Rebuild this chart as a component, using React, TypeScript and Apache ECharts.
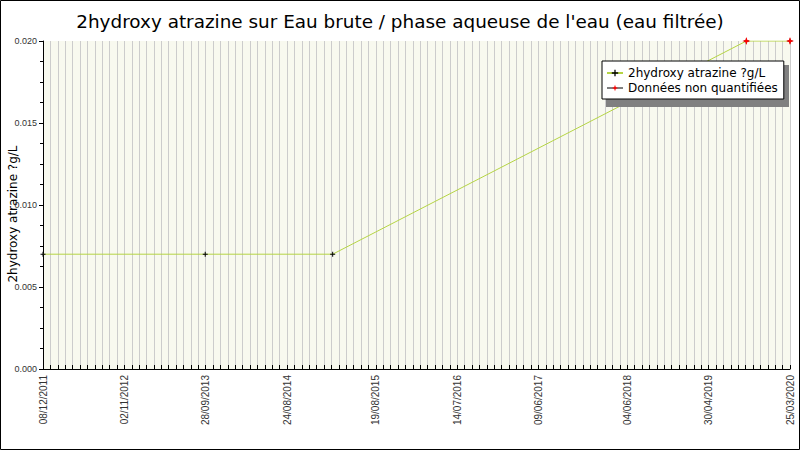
import React, { useEffect, useRef } from 'react';
import * as echarts from 'echarts';

// axis tick labels (dates at the labelled ticks, 30-day steps)
const xLabels = [
  '08/12/2011', '02/11/2012', '28/09/2013', '24/08/2014', '19/08/2015',
  '14/07/2016', '09/06/2017', '04/06/2018', '30/04/2019', '25/03/2020'
];

// sample dates and measured values
const sampleDates = ['08/12/2011', '26/09/2013', '25/02/2015', '30/09/2019', '25/03/2020'];
const sampleValues = [0.007, 0.007, 0.007, 0.02, 0.02];
// true = value below quantification limit
const nonQuantified = [false, false, false, true, true];

const toUTC = (s: string) => {
  const [d, m, y] = s.split('/').map(Number);
  return Date.UTC(y, m - 1, d);
};
const origin = toUTC(xLabels[0]);
const toDays = (s: string) => Math.round((toUTC(s) - origin) / 86400000);

const labelDays = xLabels.map(toDays);
const maxDay = labelDays[labelDays.length - 1];

const plusIcon = 'path://M2,0H3V2H5V3H3V5H2V3H0V2H2Z';
const starIcon = 'path://M4,0L5,3L8,4L5,5L4,8L3,5L0,4L3,3Z';

const App: React.FC = () => {
  const chartRef = useRef<HTMLDivElement>(null);

  useEffect(() => {
    if (!chartRef.current) return;
    const chart = echarts.init(chartRef.current, undefined, { renderer: 'svg' });

    const allPoints = sampleDates.map((d, i) => [toDays(d), sampleValues[i]]);
    const nqPoints = sampleDates
      .map((d, i) => (nonQuantified[i] ? [toDays(d), sampleValues[i]] : null))
      .filter(p => p !== null);

    const option: echarts.EChartsOption = {
      animation: false,
      backgroundColor: '#ffffff',
      title: {
        text: "2hydroxy atrazine sur Eau brute / phase aqueuse de l'eau (eau filtrée)",
        left: 'center',
        top: 7,
        textStyle: {
          fontFamily: 'DejaVu Sans',
          fontSize: 18.4,
          fontWeight: 'normal',
          color: '#000'
        }
      },
      legend: {
        orient: 'vertical',
        left: 602,
        top: 61,
        padding: [6, 6, 5, 4],
        itemGap: 3,
        itemWidth: 16,
        itemHeight: 8,
        backgroundColor: '#ffffff',
        borderColor: '#000',
        borderWidth: 1,
        z: 10,
        textStyle: { fontFamily: 'DejaVu Sans', fontSize: 12, color: '#000' },
        data: [
          { name: '2hydroxy atrazine ?g/L' },
          {
            name: 'Données non quantifiées',
            lineStyle: { color: '#000', width: 1, opacity: 1 }
          }
        ]
      },
      graphic: [
        {
          // legend drop shadow
          type: 'rect',
          shape: { x: 606, y: 65, width: 183, height: 42 },
          style: { fill: '#808080' },
          silent: true,
          z: 9
        },
        {
          type: 'rect',
          shape: { x: 0.5, y: 0.5, width: 799, height: 449 },
          style: { fill: 'none', stroke: '#000', lineWidth: 1 },
          silent: true,
          z: 100
        }
      ],
      grid: {
        left: 43,
        right: 10,
        top: 41,
        bottom: 81,
        containLabel: false,
        outerBoundsMode: 'none',
        show: true,
        backgroundColor: '#f8f9ef',
        borderWidth: 0
      } as any,
      xAxis: {
        type: 'value',
        min: 0,
        max: maxDay,
        interval: 30,
        axisLine: { show: true, onZero: false, lineStyle: { color: '#000', width: 1 } },
        axisTick: { show: true, inside: true, length: 4, lineStyle: { color: '#000' } },
        splitLine: { show: true, lineStyle: { color: '#cccccc', width: 1 } },
        axisLabel: {
          rotate: 90,
          margin: 6,
          fontFamily: 'Liberation Sans',
          fontSize: 10,
          color: '#333',
          showMinLabel: true,
          showMaxLabel: true,
          hideOverlap: false,
          formatter: (v: number) => {
            const i = labelDays.findIndex(d => Math.abs(d - v) < 0.5);
            return i >= 0 ? xLabels[i] : '';
          }
        }
      },
      yAxis: {
        type: 'value',
        min: 0,
        max: 0.02,
        interval: 0.005,
        name: '2hydroxy atrazine ?g/L',
        nameLocation: 'middle',
        nameGap: 24,
        nameMoveOverlap: false,
        nameTextStyle: {
          fontFamily: 'DejaVu Sans',
          fontSize: 12,
          color: '#000',
          padding: [0, 18, 0, 0]
        },
        axisLine: { show: true, lineStyle: { color: '#000', width: 1 } },
        axisTick: { show: true, length: 4, lineStyle: { color: '#000' } },
        minorTick: { show: true, splitNumber: 4, length: 3, lineStyle: { color: '#000' } },
        splitLine: { show: false },
        axisLabel: {
          margin: 6,
          fontFamily: 'Liberation Sans',
          fontSize: 9,
          color: '#333',
          formatter: (v: number) => v.toFixed(3)
        }
      } as any,
      series: [
        {
          name: '2hydroxy atrazine ?g/L',
          type: 'line',
          data: allPoints,
          symbol: plusIcon,
          symbolSize: 5,
          itemStyle: { color: '#000' },
          lineStyle: { color: '#b5d444', width: 1 },
          z: 2
        },
        {
          name: 'Données non quantifiées',
          type: 'line',
          data: nqPoints as number[][],
          symbol: starIcon,
          symbolSize: 8,
          itemStyle: { color: '#ff0000' },
          lineStyle: { opacity: 0, width: 0 },
          z: 3
        }
      ]
    };

    chart.setOption(option);

    return () => {
      chart.dispose();
    };
  }, []);

  return (
    <div
      ref={chartRef}
      style={{ position: 'fixed', left: 0, top: 0, width: '800px', height: '450px' }}
    />
  );
};

export default App;
